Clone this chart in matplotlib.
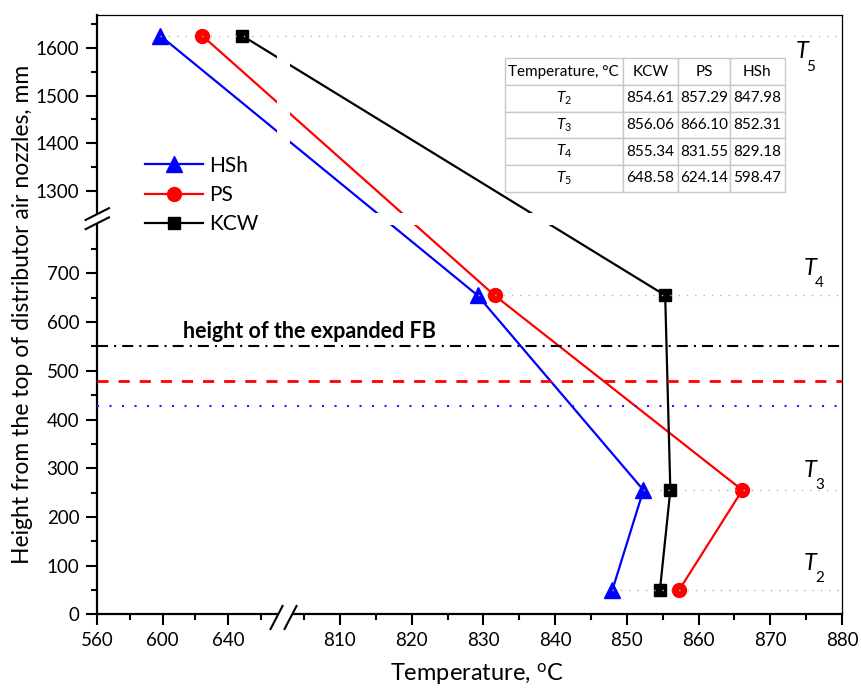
import numpy as np
import matplotlib.pyplot as plt
from matplotlib.ticker import FixedLocator, FormatStrFormatter

plt.rcParams['font.family'] = ['Lato', 'DejaVu Sans']
plt.rcParams['mathtext.fontset'] = 'custom'
plt.rcParams['mathtext.rm'] = 'Lato'
plt.rcParams['mathtext.it'] = 'Lato:italic'

# data
levels = ['2', '3', '4', '5']
heights = [50, 255, 655, 1625]
hsh = [847.98, 852.31, 829.18, 598.47]
ps = [857.29, 866.10, 831.55, 624.14]
kcw = [854.61, 856.06, 855.34, 648.58]
fb_kcw, fb_ps, fb_hsh = 550, 480, 428

x_major = [560, 600, 640, 810, 820, 830, 840, 850, 860, 870, 880]
x_minor = [580, 620, 660, 805, 815, 825, 835, 845, 855, 865, 875]
y_major = [0, 100, 200, 300, 400, 500, 600, 700, 1300, 1400, 1500, 1600]
y_minor = [50, 150, 250, 350, 450, 550, 650, 750, 1350, 1450, 1550, 1650]

# broken axes: piecewise linear scales
xb = [560, 670, 803, 880]
xv = [0, 180.1, 192.5, 745]
yb = [0, 800, 1255, 1669]
yv = [0, 389.6, 401.7, 599.6]

def fx(x): return np.interp(x, xb, xv)
def ix(v): return np.interp(v, xv, xb)
def fy(y): return np.interp(y, yb, yv)
def iy(v): return np.interp(v, yv, yb)

fig = plt.figure(figsize=(8.61, 6.91), dpi=100)
ax = fig.add_axes([0.113, 0.111, 0.865, 0.8677])
ax.set_xscale('function', functions=(fx, ix))
ax.set_yscale('function', functions=(fy, iy))
ax.set_xlim(560, 880)
ax.set_ylim(0, 1669)

ax.plot(hsh, heights, color='#0000ff', lw=1.6, marker='^', ms=11, label='HSh', zorder=2)
ax.plot(ps, heights, color='#ff0000', lw=1.6, marker='o', ms=10, label='PS', zorder=2)
ax.plot(kcw, heights, color='black', lw=1.6, marker='s', ms=8, label='KCW', zorder=2)

# break gaps in the data lines
ax.axvspan(670, 803, color='white', lw=0, zorder=2.2)
ax.axhspan(800, 1255, color='white', lw=0, zorder=2.2)

# level guide lines
for i, h in enumerate(heights):
    xmin = min(hsh[i], ps[i], kcw[i])
    ax.plot([xmin, 880], [h, h], color='#b4b4b4', lw=1, ls=(0, (1, 5)), zorder=3)

ax.axhline(fb_kcw, color='black', lw=1.5, ls=(0, (5.3, 2.9, 1, 2.9)), zorder=3)
ax.axhline(fb_ps, color='#ff0000', lw=2, ls=(0, (4, 3.6)), zorder=3)
ax.axhline(fb_hsh, color='#2020ff', lw=1.5, ls=(0, (1, 5)), zorder=3)
ax.text(0.2855, 0.471, 'height of the expanded FB', transform=ax.transAxes,
        ha='center', va='center', fontsize=15.5, fontweight='bold')

# T labels
t_pos = [(875.6, 105), (875.6, 296), (875.6, 711), (874.4, 1592)]
for lab, (tx, ty) in zip(levels, t_pos):
    ax.text(tx, ty, 'T', fontsize=17, style='italic', ha='center', va='center')
    ax.annotate(lab, xy=(tx, ty), xytext=(6.5, -11), textcoords='offset points',
                fontsize=11, ha='center', va='center')

# table
rows = [[f'$T_{{{lab}}}$', f'{k:.2f}', f'{p:.2f}', f'{h:.2f}']
        for lab, k, p, h in zip(levels, kcw, ps, hsh)]
tab = ax.table(cellText=rows, colLabels=['Temperature, °C', 'KCW', 'PS', 'HSh'],
               cellLoc='center', colWidths=[0.4225, 0.196, 0.185, 0.196],
               bbox=[0.547, 0.705, 0.376, 0.222], zorder=4)
tab.auto_set_font_size(False)
tab.set_fontsize(11)
for (r, c), cell in tab.get_celld().items():
    cell.set_edgecolor('#c8c8c8')
    cell.set_linewidth(1)
    cell.PAD = 0.03
    if r == 0 and c == 0:
        cell.get_text().set_ha('left')
        cell._loc = 'left'

ax.legend(loc='upper left', bbox_to_anchor=(0.064, 0.765), frameon=False,
          fontsize=15, handlelength=2.8, handletextpad=0.3, labelspacing=0.45,
          borderpad=0, borderaxespad=0)

# axes style
ax.xaxis.set_major_locator(FixedLocator(x_major))
ax.xaxis.set_minor_locator(FixedLocator(x_minor))
ax.yaxis.set_major_locator(FixedLocator(y_major))
ax.yaxis.set_minor_locator(FixedLocator(y_minor))
ax.xaxis.set_major_formatter(FormatStrFormatter('%d'))
ax.yaxis.set_major_formatter(FormatStrFormatter('%d'))
ax.tick_params(which='major', direction='out', length=8, width=1.5, pad=5, labelsize=13.5)
ax.tick_params(which='minor', direction='out', length=4.5, width=1.5)
ax.spines['left'].set_linewidth(1.6)
ax.spines['bottom'].set_linewidth(1.6)
ax.spines['top'].set_linewidth(0.9)
ax.spines['right'].set_linewidth(0.9)

ax.set_xlabel('Temperature, $^{\\rm o}$C', fontsize=17)
ax.xaxis.set_label_coords(0.51, -0.078)
ax.set_ylabel('Height from the top of distributor air nozzles, mm', fontsize=16.5, labelpad=2)

# break marks on the axes
W, H = 745.0, 599.6

def brk(cx, cy, d1, d2, hx, hy):
    # two slashes centred at offsets d1, d2 (px) from (cx, cy) in axes fraction
    s1 = [(cx + (d1[0] - hx) / W, cy + (d1[1] - hy) / H), (cx + (d1[0] + hx) / W, cy + (d1[1] + hy) / H)]
    s2 = [(cx + (d2[0] - hx) / W, cy + (d2[1] - hy) / H), (cx + (d2[0] + hx) / W, cy + (d2[1] + hy) / H)]
    poly = np.array([s1[0], s1[1], s2[1], s2[0]])
    ax.fill(poly[:, 0], poly[:, 1], color='white', transform=ax.transAxes, clip_on=False, zorder=5)
    for s in (s1, s2):
        s = np.array(s)
        ax.plot(s[:, 0], s[:, 1], color='black', lw=1.5, transform=ax.transAxes,
                clip_on=False, zorder=6)

brk(186.3 / W, 0.0, (-7, -3.2), (7, -3.2), 6, 11.5)
brk(0.0, 395.65 / H, (0, -4.6), (0, 4.6), 11.7, 5.9)

fig.savefig('out.png', dpi=100)
